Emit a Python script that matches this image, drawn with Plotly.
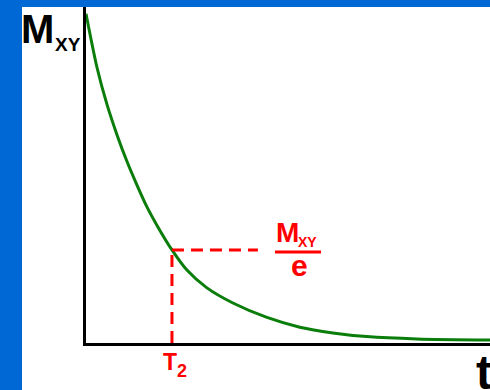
import plotly.graph_objects as go

# Transverse magnetisation decay, time in units of T2
t_vals = [0.0, 0.128, 0.244, 0.360, 0.477, 0.593, 0.709, 0.826, 1.0, 1.174,
          1.407, 1.709, 2.105, 2.488, 2.872, 3.267, 3.849, 4.70]
mxy_vals = [0.98, 0.82, 0.71, 0.62, 0.54, 0.47, 0.405, 0.35, 0.277, 0.217,
            0.164, 0.119, 0.076, 0.047, 0.030, 0.019, 0.012, 0.009]

t2 = 1.0
mxy_at_t2 = 0.277
dash_end_t = 2.0

W, H = 490, 390
L, R, T, B = 86, 0, 7, 47
PW, PH = W - L - R, H - T - B


def px(x):
    return (x - L) / PW


def py(y):
    return (H - B - y) / PH


fig = go.Figure()

fig.add_trace(go.Scatter(
    x=t_vals, y=mxy_vals, mode="lines",
    line=dict(color="#0a7d0a", width=3, shape="spline", smoothing=0.8),
    hoverinfo="skip", showlegend=False,
))

# dashed guides at t = T2
fig.add_trace(go.Scatter(
    x=[t2, t2], y=[0, mxy_at_t2], mode="lines",
    line=dict(color="#ff0000", width=3, dash="12px,7px"),
    hoverinfo="skip", showlegend=False,
))
fig.add_trace(go.Scatter(
    x=[t2, dash_end_t], y=[mxy_at_t2, mxy_at_t2], mode="lines",
    line=dict(color="#ff0000", width=3, dash="12px,7px"),
    hoverinfo="skip", showlegend=False,
))

shapes = [
    # white panel behind the axes
    dict(type="rect", xref="paper", yref="paper", layer="below",
         x0=px(22), x1=px(490), y0=py(390), y1=py(7),
         fillcolor="white", line=dict(width=0)),
    # fraction bar of the label
    dict(type="line", xref="paper", yref="paper",
         x0=px(275), x1=px(321), y0=py(252), y1=py(252),
         line=dict(color="#ff0000", width=3)),
]

font_b = "Liberation Sans, Arial, sans-serif"
annotations = [
    dict(text="<b>M</b>", x=px(20), y=py(29), xanchor="left", yanchor="middle",
         font=dict(family=font_b, size=40, color="black")),
    dict(text="<b>XY</b>", x=px(54), y=py(44), xanchor="left", yanchor="middle",
         font=dict(family=font_b, size=19, color="black")),
    dict(text="<b>M</b>", x=px(275), y=py(232), xanchor="left", yanchor="middle",
         font=dict(family=font_b, size=28, color="#ff0000")),
    dict(text="<b>XY</b>", x=px(297), y=py(242), xanchor="left", yanchor="middle",
         font=dict(family=font_b, size=14, color="#ff0000")),
    dict(text="<b>e</b>", x=px(299), y=py(265), xanchor="center", yanchor="middle",
         font=dict(family=font_b, size=30, color="#ff0000")),
    dict(text="<b>T</b>", x=px(170), y=py(362), xanchor="center", yanchor="middle",
         font=dict(family=font_b, size=23, color="#ff0000")),
    dict(text="<b>2</b>", x=px(176), y=py(371), xanchor="left", yanchor="middle",
         font=dict(family=font_b, size=18, color="#ff0000")),
    dict(text="<b>t</b>", x=px(475), y=py(372), xanchor="left", yanchor="middle",
         font=dict(family=font_b, size=48, color="black")),
]
for a in annotations:
    a.update(xref="paper", yref="paper", showarrow=False, borderpad=0)

fig.update_layout(
    width=W, height=H,
    margin=dict(l=L, r=R, t=T, b=B, pad=0),
    paper_bgcolor="#0068d4",
    plot_bgcolor="white",
    shapes=shapes,
    annotations=annotations,
    xaxis=dict(range=[0, 4.70], showline=True, linecolor="black", linewidth=3,
               showgrid=False, zeroline=False, showticklabels=False, ticks="",
               layer="below traces", fixedrange=True),
    yaxis=dict(range=[0, 1.0], showline=True, linecolor="black", linewidth=3,
               showgrid=False, zeroline=False, showticklabels=False, ticks="",
               layer="below traces", fixedrange=True),
)

fig.write_html("out.html", config={"displayModeBar": False})
